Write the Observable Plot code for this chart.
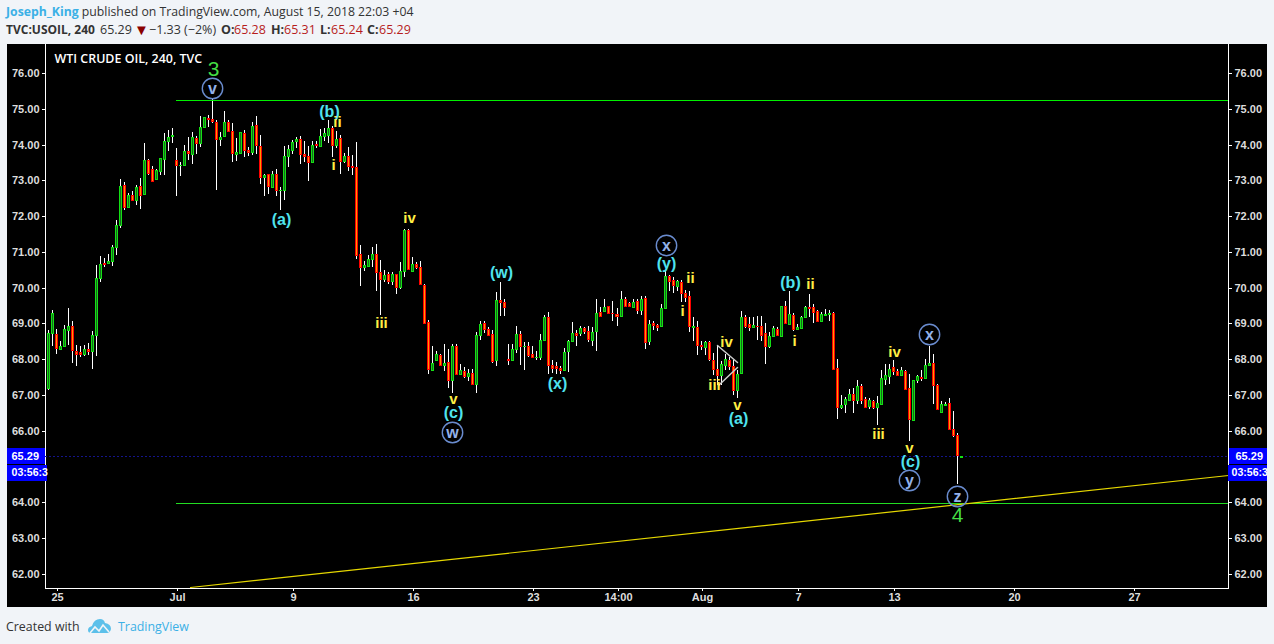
<!DOCTYPE html>
<html><head><meta charset="utf-8">
<script src="https://cdn.jsdelivr.net/npm/d3@7"></script>
<script src="https://cdn.jsdelivr.net/npm/@observablehq/plot@0.6"></script>
<style>
html,body{margin:0;padding:0;background:#f1f4f8;width:1274px;height:644px;overflow:hidden}
body{position:relative;font-family:"Open Sans",sans-serif;color:#333}
.h{position:absolute;left:6px;white-space:nowrap;font-size:12.25px;line-height:16px}
.h span{position:absolute;top:0}
.l2{font-size:12.5px}
.blue{color:#3bb0e6}.b{font-weight:700}.r{color:#b71c1c}
#plot{position:absolute;left:7px;top:44px;width:1260px;height:563px}
#plot svg{display:block}
</style></head><body>
<div class="h" style="top:4px"><b class="blue">Joseph_King</b> published on TradingView.com, August 15, 2018 22:03 +04</div>
<div class="h l2" style="top:22px;left:0">
<span class="b" style="left:6px;font-size:12px">TVC:USOIL, 240</span><span style="left:100px">65.29</span><span style="left:134px;color:#8b0000;font-size:15px;top:-1px">▼</span><span style="left:149px">−1.33 (−2%)</span><span class="b" style="left:221px">O:</span><span class="r" style="left:234px">65.28</span><span class="b" style="left:271px">H:</span><span class="r" style="left:284px">65.31</span><span class="b" style="left:320px">L:</span><span class="r" style="left:331px">65.24</span><span class="b" style="left:367px">C:</span><span class="r" style="left:379px">65.29</span></div>
<div id="plot"></div>
<div class="h" style="top:619px;font-size:12.4px">Created with</div>
<svg style="position:absolute;left:87px;top:618px" width="25" height="16" viewBox="0 0 25 16"><path d="M1 12 Q1 9 5 8 Q7 1 13 1 Q17 1 18 5 Q24 6 24 11 Q23 15 20 15 L4 15 Q1 15 1 12Z" fill="#5cc0ea"/><path d="M3 15 L8 9 L12 13 L16 7 L22 14" fill="none" stroke="#f1f4f8" stroke-width="1.6"/></svg>
<div class="h blue" style="top:619px;left:118px;font-size:12.4px">TradingView</div>
<script>
const open=[67.21,68.73,68.70,68.30,68.36,68.81,68.93,68.22,68.21,68.16,
68.29,68.22,68.67,70.26,70.69,70.69,70.74,71.13,71.75,72.87,
72.25,72.59,72.44,72.85,72.61,73.57,73.31,73.03,73.27,73.61,
74.09,74.23,73.57,73.42,73.42,73.82,73.75,74.19,74.04,74.48,
74.75,74.72,74.64,74.15,74.23,74.64,74.38,73.73,73.77,74.33,
73.85,73.79,74.55,73.96,73.09,73.18,72.81,73.18,72.72,72.72,
73.67,73.84,74.09,74.15,73.74,73.68,73.51,74.02,73.95,74.24,
74.28,74.47,73.98,74.19,73.54,73.68,73.39,73.37,70.94,70.57,
70.62,70.81,70.94,70.44,70.23,70.38,70.19,70.37,70.03,70.47,
71.61,70.46,70.66,70.58,70.07,69.05,67.71,67.98,68.11,67.85,
67.92,67.42,68.38,67.60,67.67,67.52,67.61,67.32,68.67,69.01,
68.85,68.70,67.97,69.65,69.60,68.01,67.97,68.28,68.70,68.36,
68.38,68.14,68.05,68.05,68.53,69.18,67.83,67.82,67.77,67.70,
68.22,68.50,68.73,68.74,68.87,68.79,68.55,68.78,69.32,69.35,
69.49,69.30,69.26,69.22,69.68,69.56,69.45,69.63,69.38,69.71,
68.50,69.01,68.95,68.92,69.42,70.34,70.22,70.05,70.17,69.85,
69.76,68.89,68.90,68.41,68.34,68.49,67.99,67.72,67.55,67.84,
67.97,67.80,67.13,67.63,69.18,68.98,68.91,68.93,68.93,68.73,
68.36,68.64,68.85,68.65,69.48,68.99,69.23,68.85,68.88,69.17,
69.46,69.45,69.35,69.07,69.23,69.27,69.29,67.75,66.68,66.74,
66.86,67.03,66.86,67.26,66.89,66.70,66.83,66.68,66.75,67.46,
67.54,67.78,67.68,67.55,67.67,67.19,66.31,67.41,67.51,67.49,
67.83,67.89,67.27,66.54,66.72,66.77,66.04,65.88,65.28];
const high=[68.83,69.39,68.85,68.51,68.97,69.43,69.08,68.41,68.38,68.41,
68.45,68.80,70.64,70.90,70.84,70.95,71.18,71.88,73.05,72.94,
72.66,72.69,72.88,73.07,74.03,73.61,73.41,73.33,73.63,74.31,
74.42,74.45,73.91,73.50,74.00,74.22,74.34,74.25,74.81,74.78,
74.84,75.28,74.70,74.34,74.95,74.70,74.59,74.17,74.36,74.42,
73.94,74.64,74.81,74.28,73.19,73.19,73.27,73.33,72.82,73.95,
74.00,74.14,74.22,74.25,74.11,73.95,74.09,74.11,74.44,74.45,
74.70,74.53,74.39,74.28,73.77,73.93,73.72,74.07,71.20,70.75,
70.92,71.15,71.22,70.78,70.50,70.44,70.43,70.39,70.73,71.64,
71.65,70.87,70.73,70.75,70.11,69.10,68.38,68.24,68.15,68.42,
68.28,68.42,68.43,67.87,67.78,67.73,67.72,68.75,69.07,69.06,
68.90,68.82,69.89,70.17,69.69,68.43,68.43,68.94,68.78,68.47,
68.49,68.38,68.23,68.71,69.24,69.31,67.98,67.92,67.82,68.31,
68.54,69.05,68.82,68.94,68.90,68.94,68.89,69.69,69.46,69.69,
69.49,69.63,69.43,69.91,69.74,69.60,69.68,69.68,69.77,69.77,
69.09,69.08,68.99,69.55,70.46,70.36,70.31,70.22,70.22,69.94,
69.91,69.18,69.07,68.52,68.52,68.52,68.17,68.40,67.96,68.15,
68.06,67.97,67.70,69.35,69.24,69.18,69.18,69.21,69.21,69.01,
68.76,68.92,68.90,69.50,69.62,69.91,69.29,68.99,69.20,69.49,
69.83,69.55,69.38,69.31,69.40,69.38,69.32,68.00,67.00,66.94,
67.16,67.20,67.42,67.31,66.94,66.92,66.86,66.98,67.69,67.87,
67.87,67.97,67.72,67.78,67.70,67.59,67.42,67.56,67.70,68.00,
68.38,68.15,67.31,66.84,66.82,66.91,66.56,65.95,65.31];
const low=[67.15,68.38,68.16,68.29,68.33,68.41,67.91,67.80,68.05,68.10,
68.13,67.74,68.08,70.15,70.57,70.68,70.60,70.92,71.67,72.18,
72.24,72.41,72.32,72.21,72.60,73.16,72.94,73.02,73.16,73.16,
73.81,74.03,72.56,73.11,73.41,73.58,73.45,73.74,73.92,74.45,
74.49,74.59,72.74,73.97,74.22,74.36,73.51,73.55,73.74,73.66,
73.67,73.71,73.74,72.91,72.56,72.63,72.79,72.57,72.16,72.44,
73.36,73.74,73.89,73.47,73.51,72.99,73.50,73.89,73.95,74.09,
74.03,73.66,73.89,73.19,73.49,73.27,73.16,70.81,70.04,70.46,
70.59,70.58,69.90,69.24,70.15,70.11,70.08,69.83,69.97,70.31,
70.50,70.45,70.52,70.07,68.99,67.59,67.70,67.94,67.84,67.68,
67.21,67.06,67.56,67.59,67.49,67.40,67.27,67.06,68.53,68.73,
68.68,67.90,67.82,69.21,69.21,67.84,67.96,68.17,67.84,67.70,
68.05,68.03,67.98,67.98,68.52,67.59,67.61,67.59,67.59,67.69,
67.65,68.47,68.38,68.66,68.71,68.47,68.36,68.22,69.21,69.32,
69.27,69.06,68.94,69.21,69.45,69.45,69.43,69.27,69.24,68.28,
68.41,68.82,68.80,68.90,69.41,69.91,69.85,69.90,69.59,69.59,
68.75,68.50,68.12,68.26,68.12,67.94,67.56,67.28,67.28,67.70,
67.69,67.00,66.93,67.61,68.87,68.79,68.87,68.54,68.50,67.87,
68.31,68.63,68.64,68.62,68.98,68.98,68.78,68.82,68.87,69.16,
69.17,69.01,69.03,69.06,69.21,69.06,67.69,66.33,66.60,66.51,
66.85,66.51,66.75,66.75,66.66,66.60,66.60,66.17,66.74,67.28,
67.31,67.55,67.52,67.52,67.14,65.73,66.31,67.35,67.40,67.47,
67.82,66.75,66.57,66.53,66.70,66.03,65.82,64.52,65.24];
const close=[68.73,69.29,68.31,68.37,68.85,68.93,68.25,68.14,68.16,68.29,
68.23,68.68,70.27,70.66,70.65,70.75,71.14,71.75,72.85,72.25,
72.59,72.44,72.82,72.58,73.57,73.20,72.99,73.30,73.63,74.10,
74.22,74.28,73.42,73.44,73.82,73.76,74.22,74.04,74.50,74.78,
74.71,74.65,74.15,74.22,74.64,74.39,73.76,73.80,74.34,73.84,
73.79,74.52,73.98,73.09,73.15,72.84,73.19,72.72,72.74,73.68,
73.88,74.08,74.16,73.73,73.67,73.51,73.99,73.98,74.24,74.31,
74.47,73.98,74.16,73.54,73.68,73.39,73.37,70.92,70.57,70.64,
70.80,70.94,70.43,70.24,70.35,70.20,70.39,70.01,70.46,71.62,
70.51,70.66,70.59,70.09,69.00,67.72,67.89,68.14,67.85,67.89,
67.42,68.38,67.60,67.70,67.52,67.61,67.32,68.67,68.98,68.84,
68.69,67.96,69.65,69.60,69.46,67.97,68.28,68.70,68.36,68.38,
68.13,68.05,68.06,68.54,69.18,67.83,67.77,67.77,67.70,68.20,
68.52,68.73,68.67,68.88,68.78,68.57,68.76,69.29,69.22,69.46,
69.28,69.28,69.20,69.68,69.49,69.48,69.59,69.38,69.68,68.47,
68.98,68.96,68.91,69.43,70.32,70.20,70.07,70.18,69.85,69.73,
68.92,68.93,68.41,68.36,68.48,68.00,67.72,67.55,67.86,68.00,
67.80,67.13,67.58,69.18,68.93,68.91,68.95,68.92,68.68,68.36,
68.65,68.87,68.67,69.48,69.01,69.26,68.85,68.90,69.18,69.46,
69.42,69.32,69.06,69.27,69.27,69.30,67.74,66.68,66.72,66.89,
67.03,66.86,67.26,66.87,66.68,66.86,66.68,66.78,67.48,67.56,
67.72,67.66,67.56,67.70,67.16,66.34,67.42,67.54,67.47,67.84,
67.89,67.27,66.61,66.74,66.75,66.04,65.88,65.33,65.29];

const yTicks=[62,63,64,66,67,68,69,70,71,72,73,74,75,76];
const xTickBars=[2.25,32.2,61.2,91.2,121.1,142.4,163.4,187.3,211.3,241.3,271.3];
const xTickLabels=["25","Jul","9","16","23","14:00","Aug","7","13","20","27"];

const cyanText=["(b)","(a)","(c)","(w)","(x)","(y)","(a)","(b)","(c)"];
const cyanBar=[70.2,58.2,101.2,113.2,127.1,154.4,172.3,185.3,215.3];
const cyanPrice=[74.95,71.91,66.54,70.43,67.35,70.68,66.37,70.15,65.17];

const yellowText=["ii","i","iv","iii","v","ii","i","iv","iii","v","ii","i","iv","iii","v"];
const yellowBar=[72.2,71.2,90.2,83.2,101.2,160.4,158.4,169.4,166.4,172.1,190.3,186.3,211.3,207.3,215.1];
const yellowPrice=[74.62,73.44,71.96,69.00,66.90,70.26,69.34,68.47,67.27,66.71,70.09,68.50,68.19,65.90,65.51];

const circleText=["v","w","x","y","x","z"];
const circleBar=[41,100.9,154.4,215.1,220.1,227.1];
const circlePrice=[75.59,65.98,71.18,64.64,68.72,64.17];

const degreeText=["3","4"];
const degreeBar=[41.2,227.1];
const degreePrice=[76.10,63.66];

const lastPrice=65.29;
const topLevel=75.25, bottomLevel=63.98, levelStartBar=32, lastBar=294.74;
const trendBars=[35.5,294.74], trendPrices=[61.64,64.77];
const wedgeUpperBars=[167.1,172.1], wedgeUpperPrices=[68.40,67.92];
const wedgeLowerBars=[172.1,167.4], wedgeLowerPrices=[67.78,67.28];

const bars=d3.range(open.length);
const isUp=i=>close[i]>=open[i];
const pick=(text,bar,price)=>text.map((t,k)=>({t,x:bar[k],y:price[k]}));
const F="Liberation Sans";
const labelFont={fontFamily:F,fontWeight:"bold",lineAnchor:"middle",textAnchor:"middle"};

const chart=Plot.plot({
  width:1260,height:563,
  marginLeft:38,marginRight:39,marginTop:0,marginBottom:19,
  style:{background:"#000",color:"#ddd",fontFamily:F,fontWeight:"bold",fontSize:"11px",overflow:"hidden"},
  x:{domain:[-0.749,294.74],round:true},
  y:{domain:[61.609,76.81],round:true},
  marks:[
    Plot.axisY({ticks:yTicks,anchor:"left",tickSize:3,tickPadding:3,tickFormat:d=>d.toFixed(2),label:null,stroke:"#fff",fill:"#ddd"}),
    Plot.axisY({ticks:yTicks,anchor:"right",tickSize:3,tickPadding:3,tickFormat:d=>d.toFixed(2),label:null,stroke:"#fff",fill:"#ddd"}),
    Plot.axisX({ticks:xTickBars,tickFormat:d=>xTickLabels[xTickBars.indexOf(d)],tickSize:3,tickPadding:2,label:null,stroke:"#fff",fill:"#ddd"}),
    Plot.frame({anchor:"left",stroke:"#fff"}),
    Plot.frame({anchor:"right",stroke:"#fff"}),
    Plot.frame({anchor:"bottom",stroke:"#fff"}),
    Plot.ruleY([lastPrice],{stroke:"#14148c",strokeDasharray:"2,2"}),
    Plot.ruleX(bars,{x:i=>i,y1:i=>low[i],y2:i=>high[i],stroke:"#fff"}),
    Plot.rect(bars,{x1:i=>i-0.25,x2:i=>i+0.25,y1:i=>open[i],y2:i=>close[i],insetRight:-1,insetBottom:-1,fill:i=>isUp(i)?"#14e014":"#ff0000"}),
    Plot.rect(bars,{x1:i=>i-0.25,x2:i=>i+0.25,y1:i=>open[i],y2:i=>close[i],insetLeft:1,insetTop:1,fill:i=>isUp(i)?"#17691f":"#ff9800"}),
    Plot.ruleY([topLevel],{x1:levelStartBar,x2:lastBar,stroke:"#00f000"}),
    Plot.ruleY([bottomLevel],{x1:levelStartBar,x2:lastBar,stroke:"#22dd22"}),
    Plot.line(trendBars.map((x,k)=>({x,y:trendPrices[k]})),{x:"x",y:"y",stroke:"#e6d800",strokeWidth:1.2}),
    Plot.line(wedgeUpperBars.map((x,k)=>({x,y:wedgeUpperPrices[k]})),{x:"x",y:"y",stroke:"#ccc"}),
    Plot.line(wedgeLowerBars.map((x,k)=>({x,y:wedgeLowerPrices[k]})),{x:"x",y:"y",stroke:"#ccc"}),
    Plot.dot(pick(circleText,circleBar,circlePrice),{x:"x",y:"y",r:10.2,stroke:"#6a8ccf",strokeWidth:1.4,fill:"none"}),
    Plot.text(pick(circleText,circleBar,circlePrice),{x:"x",y:"y",text:"t",fill:"#93b2ea",fontSize:16,...labelFont}),
    Plot.text(pick(cyanText,cyanBar,cyanPrice),{x:"x",y:"y",text:"t",fill:"#4fe3ee",fontSize:16,...labelFont}),
    Plot.text(pick(yellowText,yellowBar,yellowPrice),{x:"x",y:"y",text:"t",fill:"#ffee44",fontSize:15,...labelFont}),
    Plot.text(pick(degreeText,degreeBar,degreePrice),{x:"x",y:"y",text:"t",fill:"#44dd44",fontSize:21,fontFamily:F,fontWeight:"normal",lineAnchor:"middle"}),
    Plot.text(["WTI CRUDE OIL, 240, TVC"],{x:1.5,y:76.38,fontFamily:"Open Sans",fontSize:12.45,fontWeight:600,fill:"#fff",textAnchor:"start"}),
    Plot.rect([0],{x1:-10.3,x2:-0.75,y1:65.52,y2:65.07,fill:"#0000ff"}),
    Plot.rect([0],{x1:-10.3,x2:-0.25,y1:65.05,y2:64.60,fill:"#0000ff"}),
    Plot.rect([0],{x1:294.98,x2:304.6,y1:65.52,y2:65.07,fill:"#0000ff"}),
    Plot.rect([0],{x1:294.74,x2:304.6,y1:65.05,y2:64.60,fill:"#0000ff"}),
    Plot.text([lastPrice.toFixed(2)],{x:-9.24,y:lastPrice,fill:"#fff",textAnchor:"start"}),
    Plot.text(["03:56:3"],{x:-9.24,y:64.84,fill:"#fff",textAnchor:"start",fontSize:10.6}),
    Plot.text([lastPrice.toFixed(2)],{x:296.5,y:lastPrice,fill:"#fff",textAnchor:"start"}),
    Plot.text(["03:56:3"],{x:295.4,y:64.84,fill:"#fff",textAnchor:"start",fontSize:10.6})
  ]
});
document.getElementById("plot").appendChild(chart);
</script>
</body></html>
